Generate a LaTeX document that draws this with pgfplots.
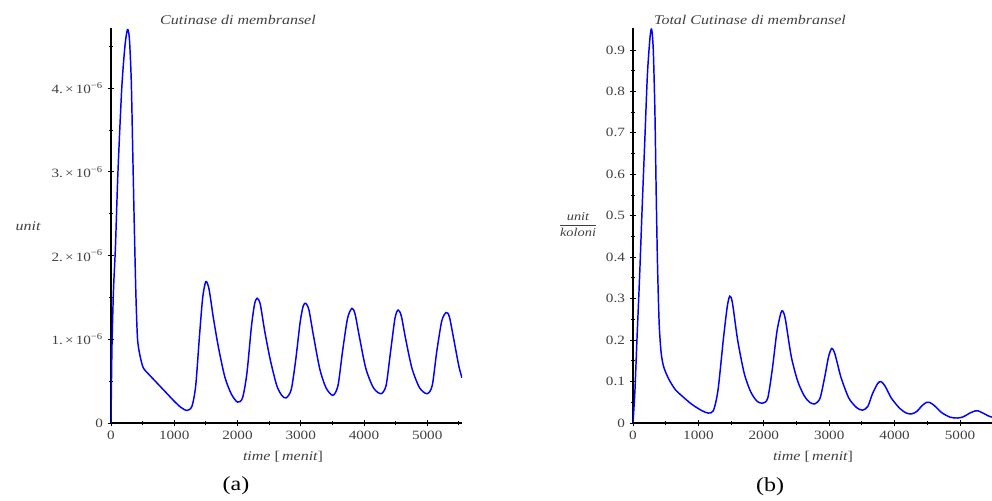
\documentclass[border=0pt]{standalone}
\usepackage{fontspec}
\setmainfont[FakeStretch=1.2]{Liberation Serif}
\usepackage{pgfplots}
\pgfplotsset{compat=1.18}
\definecolor{curve}{RGB}{35,35,215}

\pgfplotsset{
  panel/.style={
    scale only axis,
    axis lines=left,
    axis line style={-, line width=0.8pt, black},
    xmin=0, xmax=5550, ymin=0,
    xtick={0,1000,2000,3000,4000,5000},
    xticklabels={0,1000,2000,3000,4000,5000},
    minor xtick={500,1500,2500,3500,4500,5500},
    scaled y ticks=false,
    tick align=center,
    major tick length=5pt,
    minor tick length=3pt,
    tick style={black, line width=0.7pt},
    tick label style={font=\fontsize{9.5}{10}\selectfont, text=black!75},
    every axis plot/.append style={curve, line width=1.1pt, smooth, tension=0.45, no markers},
  }
}

\begin{document}
\begin{tikzpicture}
\path[use as bounding box] (0,0) rectangle (744pt,375pt);

% panel (a)
\begin{axis}[panel,
  at={(83.25pt,57.75pt)}, anchor=origin,
  width=263.25pt, height=296.25pt,
  ymax=4.72e-6,
  ytick={0,1e-6,2e-6,3e-6,4e-6},
  yticklabels={0, 1.\,×\,10\textsuperscript{−6}, 2.\,×\,10\textsuperscript{−6}, 3.\,×\,10\textsuperscript{−6}, 4.\,×\,10\textsuperscript{−6}},
  minor ytick={0.5e-6,1.5e-6,2.5e-6,3.5e-6,4.5e-6},
]
\addplot coordinates {
(0,0) (15,0.9e-6) (40,1.6e-6) (70,2.1e-6) (110,3.0e-6) (170,4.0e-6) (220,4.5e-6)
(260,4.7e-6) (290,4.6e-6) (320,4.1e-6) (345,3.2e-6) (370,2.3e-6) (395,1.5e-6)
(420,1.0e-6) (460,0.8e-6) (510,0.66e-6) (600,0.58e-6) (700,0.5e-6) (800,0.42e-6)
(900,0.34e-6) (1000,0.26e-6) (1100,0.19e-6) (1200,0.15e-6) (1280,0.2e-6)
(1340,0.45e-6) (1400,1.05e-6) (1450,1.5e-6) (1500,1.69e-6) (1550,1.6e-6)
(1620,1.25e-6) (1700,0.9e-6) (1800,0.55e-6) (1900,0.35e-6) (2000,0.25e-6)
(2080,0.3e-6) (2150,0.6e-6) (2220,1.15e-6) (2270,1.42e-6) (2310,1.49e-6)
(2360,1.42e-6) (2430,1.1e-6) (2520,0.75e-6) (2620,0.45e-6) (2700,0.33e-6)
(2770,0.30e-6) (2850,0.4e-6) (2920,0.75e-6) (2990,1.2e-6) (3040,1.4e-6)
(3080,1.43e-6) (3130,1.35e-6) (3200,1.05e-6) (3300,0.65e-6) (3400,0.42e-6)
(3510,0.33e-6) (3590,0.45e-6) (3660,0.85e-6) (3740,1.25e-6) (3810,1.37e-6)
(3860,1.3e-6) (3930,1.02e-6) (4030,0.65e-6) (4150,0.42e-6) (4270,0.35e-6)
(4350,0.45e-6) (4420,0.85e-6) (4490,1.25e-6) (4540,1.35e-6) (4590,1.28e-6)
(4660,1.0e-6) (4760,0.65e-6) (4880,0.42e-6) (5000,0.35e-6) (5080,0.45e-6)
(5150,0.85e-6) (5230,1.22e-6) (5300,1.32e-6) (5350,1.27e-6) (5420,1.0e-6)
(5500,0.68e-6) (5550,0.54e-6)
};
\end{axis}

% panel (b)
\begin{axis}[panel,
  at={(474.75pt,57.75pt)}, anchor=origin,
  width=272.25pt, height=296.25pt,
  ymax=0.953,
  ytick={0,0.1,0.2,0.3,0.4,0.5,0.6,0.7,0.8,0.9},
  yticklabels={0,0.1,0.2,0.3,0.4,0.5,0.6,0.7,0.8,0.9},
  minor ytick={0.05,0.15,0.25,0.35,0.45,0.55,0.65,0.75,0.85},
]
\addplot coordinates {
(0,0) (30,0.08) (60,0.2) (100,0.35) (140,0.52) (180,0.68) (220,0.84) (260,0.93)
(285,0.95) (310,0.9) (335,0.75) (355,0.55) (375,0.38) (400,0.24) (430,0.17)
(470,0.135) (550,0.105) (650,0.08) (765,0.063) (900,0.045) (1050,0.03)
(1150,0.024) (1230,0.03) (1300,0.08) (1380,0.2) (1440,0.28) (1480,0.306)
(1520,0.29) (1600,0.2) (1700,0.12) (1800,0.075) (1900,0.052) (1985,0.048)
(2060,0.06) (2130,0.13) (2200,0.22) (2260,0.265) (2290,0.27) (2330,0.25)
(2420,0.16) (2520,0.1) (2620,0.065) (2700,0.05) (2780,0.046) (2860,0.06)
(2930,0.11) (2990,0.16) (3040,0.18) (3090,0.165) (3180,0.11) (3300,0.06)
(3420,0.037) (3510,0.031) (3590,0.04) (3660,0.07) (3740,0.095) (3790,0.10)
(3850,0.09) (3950,0.06) (4080,0.035) (4180,0.024) (4260,0.022) (4340,0.028)
(4420,0.042) (4490,0.05) (4530,0.05) (4600,0.043) (4720,0.025) (4850,0.014)
(4960,0.012) (5050,0.015) (5150,0.024) (5230,0.029) (5280,0.029) (5350,0.024)
(5450,0.016) (5550,0.012)
};
\end{axis}

% titles, axis labels and captions (pixel coordinates from the top-left corner)
\begin{scope}[x=0.75pt, y=-0.75pt, yshift=375pt,
  every node/.style={text=black!75, inner sep=0pt}]
\node at (238,20) {\fontsize{10}{12}\selectfont\itshape Cutinase di membransel};
\node at (750,20) {\fontsize{10}{12}\selectfont\itshape Total Cutinase di membransel};
\node at (28,226) {\fontsize{10}{12}\selectfont\itshape unit};
\node at (578,225) {\fontsize{9}{11}\selectfont $\displaystyle\frac{\textit{unit}}{\textit{koloni}}$};
\node at (283,457) {\fontsize{10}{12}\selectfont\itshape time \upshape[\,\itshape menit\upshape]};
\node at (813,457) {\fontsize{10}{12}\selectfont\itshape time \upshape[\,\itshape menit\upshape]};
\node[text=black] at (236,486) {\fontsize{15}{17}\selectfont (a)};
\node[text=black] at (770,487) {\fontsize{15}{17}\selectfont (b)};
\end{scope}
\end{tikzpicture}
\end{document}
